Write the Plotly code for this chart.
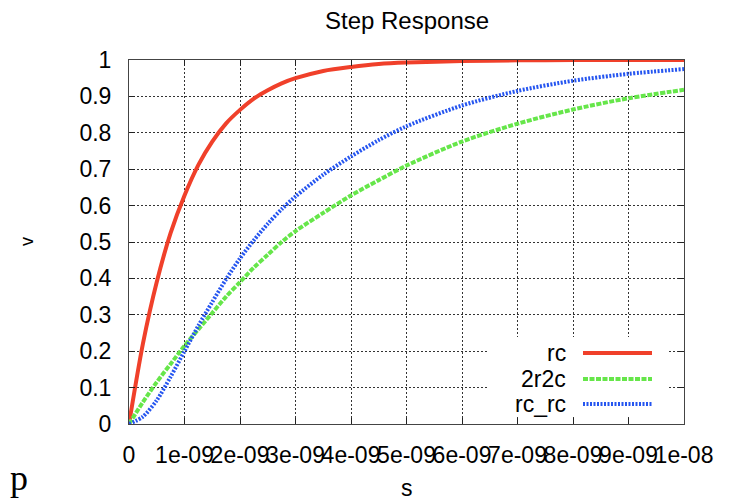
import plotly.graph_objects as go

# ---- data ----
t_ns = [0, 0.25, 0.5, 0.75, 1, 1.25, 1.5, 1.75, 2, 2.25, 2.5, 2.75, 3, 3.5, 4, 4.5,
        5, 6, 7, 8, 9, 10]
rc = [0, 0.22, 0.39, 0.525, 0.628, 0.712, 0.776, 0.826, 0.863, 0.894, 0.917, 0.936,
      0.95, 0.97, 0.981, 0.989, 0.993, 0.997, 0.999, 1.0, 1.0, 1.0]
r2c2 = [0, 0.06, 0.115, 0.165, 0.215, 0.26, 0.305, 0.35, 0.39, 0.43, 0.465, 0.5,
        0.53, 0.58, 0.628, 0.67, 0.71, 0.776, 0.825, 0.864, 0.895, 0.918]
rc_rc = [0, 0.02, 0.065, 0.13, 0.2, 0.27, 0.335, 0.398, 0.455, 0.505, 0.55, 0.59,
         0.625, 0.685, 0.735, 0.78, 0.818, 0.875, 0.915, 0.943, 0.962, 0.975]

x_tickvals = [0, 1e-9, 2e-9, 3e-9, 4e-9, 5e-9, 6e-9, 7e-9, 8e-9, 9e-9, 1e-8]
x_ticktext = ["0", "1e-09", "2e-09", "3e-09", "4e-09", "5e-09", "6e-09", "7e-09",
              "8e-09", "9e-09", "1e-08"]
series_names = ["rc", "2r2c", "rc_rc"]
series_colors = ["#f0402a", "#66e64a", "#2555f0"]
series_dash = ["solid", "5px,1.5px", "2px,1.5px"]
series_width = [4, 4, 4]

t_s = [v * 1e-9 for v in t_ns]
series_vals = [rc, r2c2, rc_rc]

FONT = "Liberation Sans, Arial, Helvetica, sans-serif"

fig = go.Figure()
for name, vals, col, dash, w in zip(series_names, series_vals, series_colors,
                                    series_dash, series_width):
    fig.add_trace(go.Scatter(x=t_s, y=vals, mode="lines", name=name,
                             line=dict(color=col, width=w, dash=dash, shape="spline",
                                       smoothing=0.8),
                             showlegend=False))

# page has an 8px body margin: the figure is offset by 8px in x and y
OFF = 8
W, H = 738 - OFF, 500 - OFF
L, R, T, B = 129 - OFF, 54, 60 - OFF, 76
pw, ph = W - L - R, H - T - B
# page-pixel helpers
X0, Y1 = 129, 60 + ph  # left edge and bottom edge in page pixels

def px(xp):
    return (xp - X0) / pw

def py(yp):
    return (Y1 - yp) / ph

axis_common = dict(
    showline=True, linecolor="#444", linewidth=1, mirror="ticks",
    ticks="inside", ticklen=6, tickcolor="#222", tickwidth=1,
    showgrid=True, gridcolor="#333", gridwidth=1, griddash="2px,2px",
    zeroline=False, tickfont=dict(family=FONT, size=23, color="black"),
)

fig.update_xaxes(range=[0, 1e-8], tickvals=x_tickvals, ticktext=x_ticktext,
                 tickangle=0, ticklabelstandoff=10, **axis_common)
fig.update_yaxes(range=[0, 1], tick0=0, dtick=0.1, ticklabelstandoff=12,
                 **axis_common)

# legend (gnuplot style: text right, sample line after it)
fig.add_shape(type="rect", xref="paper", yref="paper",
              x0=px(488), x1=px(668), y0=py(417), y1=py(337),
              fillcolor="white", line=dict(width=0), layer="above")
leg_y = [353, 379, 404]
for name, col, dash, w, yy in zip(series_names, series_colors, series_dash,
                                  series_width, leg_y):
    fig.add_annotation(x=px(568), y=py(yy), xref="paper", yref="paper",
                       text=name, showarrow=False, xanchor="right", yanchor="middle",
                       font=dict(family=FONT, size=23, color="black"))
    fig.add_shape(type="line", xref="paper", yref="paper",
                  x0=px(583), x1=px(652), y0=py(yy), y1=py(yy),
                  line=dict(color=col, width=w, dash=dash), layer="above")

# title & axis labels
fig.add_annotation(x=0.5, y=py(21), xref="paper", yref="paper", text="Step Response",
                   showarrow=False, xanchor="center", yanchor="middle",
                   font=dict(family=FONT, size=24, color="black"))
fig.add_annotation(x=0.5, y=py(488), xref="paper", yref="paper", text="s",
                   showarrow=False, xanchor="center", yanchor="middle",
                   font=dict(family=FONT, size=23, color="black"))
fig.add_annotation(x=px(27), y=py(242), xref="paper", yref="paper", text="v",
                   showarrow=False, xanchor="center", yanchor="middle", textangle=-90,
                   font=dict(family=FONT, size=18, color="black"))
# stray glyph at bottom-left of the reference image
fig.add_annotation(x=px(8), y=py(478), xref="paper", yref="paper", text="p",
                   showarrow=False, xanchor="left", yanchor="middle",
                   font=dict(family="Liberation Serif, Times New Roman, serif",
                             size=36, color="black"))

fig.update_layout(width=W, height=H, margin=dict(l=L, r=R, t=T, b=B),
                  paper_bgcolor="white", plot_bgcolor="white")

fig.write_html("out.html")
